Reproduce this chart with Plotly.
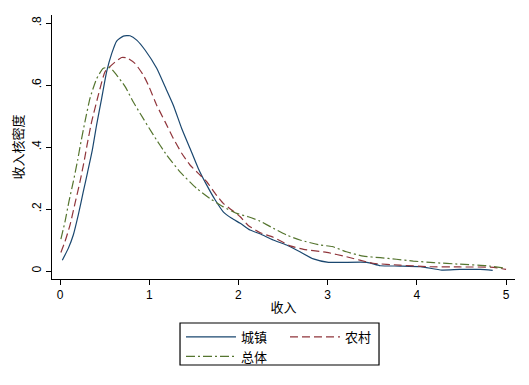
import plotly.graph_objects as go

# ---- data ----
urban_x = [0.026, 0.093, 0.149, 0.205, 0.261, 0.31, 0.362, 0.41, 0.467, 0.523, 0.58, 0.635, 0.71, 0.785, 0.86, 0.953, 1.084, 1.177, 1.27, 1.364, 1.457, 1.55, 1.645, 1.74, 1.83, 1.925, 2.02, 2.13, 2.24, 2.39, 2.54, 2.69, 2.84, 3.01, 3.44, 3.59, 3.81, 4.04, 4.28, 4.48, 4.71, 4.85]
urban_y = [0.035, 0.073, 0.116, 0.181, 0.256, 0.32, 0.39, 0.471, 0.557, 0.643, 0.702, 0.742, 0.758, 0.759, 0.745, 0.713, 0.654, 0.595, 0.535, 0.46, 0.396, 0.331, 0.277, 0.229, 0.191, 0.17, 0.154, 0.132, 0.12, 0.10, 0.084, 0.062, 0.039, 0.028, 0.028, 0.017, 0.016, 0.014, 0.003, 0.005, 0.005, 0.002]

rural_x = [0.01, 0.056, 0.112, 0.168, 0.224, 0.273, 0.303, 0.355, 0.43, 0.505, 0.60, 0.69, 0.747, 0.84, 0.934, 0.99, 1.084, 1.177, 1.27, 1.364, 1.457, 1.55, 1.645, 1.74, 1.83, 1.925, 2.02, 2.11, 2.24, 2.39, 2.58, 2.73, 2.99, 3.21, 3.51, 3.81, 4.11, 4.48, 4.86, 5.0]
rural_y = [0.06, 0.095, 0.148, 0.218, 0.288, 0.358, 0.406, 0.482, 0.568, 0.643, 0.67, 0.689, 0.688, 0.67, 0.632, 0.60, 0.535, 0.482, 0.428, 0.38, 0.342, 0.315, 0.288, 0.25, 0.218, 0.197, 0.175, 0.147, 0.124, 0.109, 0.081, 0.07, 0.06, 0.046, 0.025, 0.019, 0.014, 0.013, 0.012, 0.005]

total_x = [0.01, 0.056, 0.10, 0.149, 0.198, 0.224, 0.28, 0.336, 0.41, 0.486, 0.56, 0.635, 0.73, 0.82, 0.897, 1.046, 1.196, 1.345, 1.53, 1.68, 1.83, 1.98, 2.11, 2.24, 2.39, 2.54, 2.69, 2.91, 3.05, 3.21, 3.40, 3.59, 3.77, 3.96, 4.19, 4.48, 4.78, 5.0]
total_y = [0.103, 0.159, 0.224, 0.288, 0.358, 0.40, 0.482, 0.557, 0.62, 0.654, 0.656, 0.632, 0.595, 0.546, 0.509, 0.439, 0.374, 0.32, 0.267, 0.234, 0.207, 0.186, 0.175, 0.161, 0.138, 0.116, 0.10, 0.084, 0.079, 0.062, 0.048, 0.043, 0.038, 0.032, 0.027, 0.022, 0.017, 0.009]

x_ticks = [0, 1, 2, 3, 4, 5]
y_ticks = [0, 0.2, 0.4, 0.6, 0.8]
y_tick_labels = ["0", ".2", ".4", ".6", ".8"]

CJK = "Noto Sans CJK SC"
LAT = "Liberation Sans"

fig = go.Figure()
fig.add_trace(go.Scatter(x=urban_x, y=urban_y, mode="lines", name="城镇",
                         line=dict(color="#1a476f", width=1.2, shape="spline", smoothing=0.5),
                         legend="legend"))
fig.add_trace(go.Scatter(x=rural_x, y=rural_y, mode="lines", name="农村",
                         line=dict(color="#90353b", width=1.2, shape="spline", smoothing=0.5, dash="8px,4px"),
                         legend="legend"))
fig.add_trace(go.Scatter(x=total_x, y=total_y, mode="lines", name="总体",
                         line=dict(color="#55752f", width=1.2, shape="spline", smoothing=0.5, dash="9px,3px,2px,3px"),
                         legend="legend2"))

# page body has an 8px margin, so the figure is sized/offset to compensate
fig.update_layout(
    width=513, height=369,
    margin=dict(l=44, r=6, t=7, b=98, autoexpand=False),
    paper_bgcolor="white", plot_bgcolor="white",
    font=dict(family=LAT, size=12, color="black"),
    xaxis=dict(range=[-0.0897, 5.10], tickvals=x_ticks, ticks="outside", ticklen=5,
               tickcolor="black", showline=True, linecolor="black", linewidth=1,
               showgrid=False, zeroline=False,
               tickfont=dict(family=LAT, size=12),
               title=dict(text="收入", font=dict(family=CJK, size=13), standoff=1)),
    yaxis=dict(range=[-0.0258, 0.826], tickvals=y_ticks, ticktext=y_tick_labels,
               ticks="outside", ticklen=5, tickcolor="black", tickangle=-90,
               showline=True, linecolor="black", linewidth=1,
               showgrid=False, zeroline=False,
               tickfont=dict(family=LAT, size=12),
               title=dict(text="收入核密度", font=dict(family=CJK, size=13), standoff=4)),
    legend=dict(orientation="h", x=0.2786, xanchor="left", y=-0.1629, yanchor="top",
                font=dict(family=CJK, size=13), itemwidth=50, entrywidth=39,
                bgcolor="rgba(0,0,0,0)", borderwidth=0, tracegroupgap=0),
    legend2=dict(orientation="h", x=0.2786, xanchor="left", y=-0.2367, yanchor="top",
                 font=dict(family=CJK, size=13), itemwidth=50,
                 bgcolor="rgba(0,0,0,0)", borderwidth=0),
    shapes=[dict(type="rect", xref="paper", yref="paper",
                 x0=0.2765, x1=0.7063, y0=-0.1667, y1=-0.3258,
                 line=dict(color="black", width=1.2), fillcolor="rgba(0,0,0,0)")],
)

fig.write_html("out.html")
